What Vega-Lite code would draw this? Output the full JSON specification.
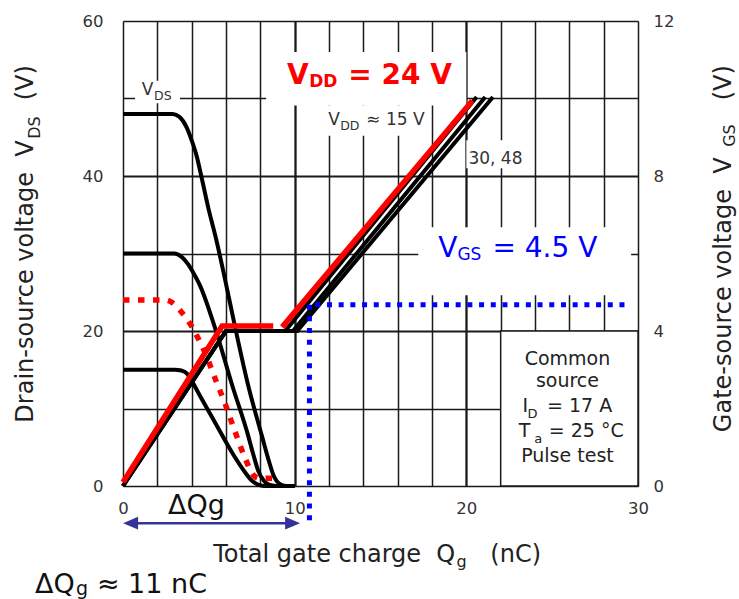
{
  "$schema": "https://vega.github.io/schema/vega-lite/v6.json",
  "width": 515,
  "height": 465,
  "autosize": {"type": "none"},
  "padding": {"left": 123, "top": 21, "right": 101, "bottom": 113},
  "background": "white",
  "config": {"view": {"stroke": null}, "font": "DejaVu Sans"},
  "datasets": {
    "vds": [
      {"q": 0, "v": 48, "s": "48"}, {"q": 2.9, "v": 48, "s": "48"}, {"q": 3.3, "v": 47.6, "s": "48"}, {"q": 3.7, "v": 46.3, "s": "48"},
      {"q": 4.0, "v": 44.6, "s": "48"}, {"q": 4.3, "v": 42.5, "s": "48"}, {"q": 4.55, "v": 40.1, "s": "48"}, {"q": 5.0, "v": 35.6, "s": "48"},
      {"q": 5.4, "v": 32.1, "s": "48"}, {"q": 5.95, "v": 26.6, "s": "48"}, {"q": 6.53, "v": 20.5, "s": "48"}, {"q": 7.29, "v": 13.0, "s": "48"},
      {"q": 8.1, "v": 6.4, "s": "48"}, {"q": 8.5, "v": 3.2, "s": "48"}, {"q": 8.8, "v": 1.2, "s": "48"}, {"q": 9.1, "v": 0.3, "s": "48"},
      {"q": 9.5, "v": 0, "s": "48"}, {"q": 10, "v": 0, "s": "48"},
      {"q": 0, "v": 30, "s": "30"}, {"q": 3.0, "v": 30, "s": "30"}, {"q": 3.4, "v": 29.6, "s": "30"}, {"q": 3.8, "v": 28.6, "s": "30"},
      {"q": 4.15, "v": 27.3, "s": "30"}, {"q": 4.5, "v": 25.8, "s": "30"}, {"q": 5.36, "v": 20.4, "s": "30"}, {"q": 6.36, "v": 13.0, "s": "30"},
      {"q": 7.29, "v": 6.5, "s": "30"}, {"q": 7.6, "v": 4.0, "s": "30"}, {"q": 7.87, "v": 2.0, "s": "30"}, {"q": 8.2, "v": 0.7, "s": "30"},
      {"q": 8.6, "v": 0.1, "s": "30"}, {"q": 9.0, "v": 0, "s": "30"}, {"q": 10, "v": 0, "s": "30"},
      {"q": 0, "v": 15, "s": "15"}, {"q": 3.0, "v": 15, "s": "15"}, {"q": 3.4, "v": 14.9, "s": "15"}, {"q": 3.73, "v": 14.5, "s": "15"},
      {"q": 4.0, "v": 13.6, "s": "15"}, {"q": 4.37, "v": 12.1, "s": "15"}, {"q": 5.36, "v": 8.2, "s": "15"}, {"q": 6.36, "v": 4.3, "s": "15"},
      {"q": 7.1, "v": 1.8, "s": "15"}, {"q": 7.5, "v": 0.7, "s": "15"}, {"q": 7.9, "v": 0.15, "s": "15"}, {"q": 8.3, "v": 0, "s": "15"},
      {"q": 10, "v": 0, "s": "15"}
    ],
    "vds24": [
      {"q": 0, "v": 24}, {"q": 2.45, "v": 24}, {"q": 2.9, "v": 23.6}, {"q": 3.23, "v": 22.9}, {"q": 3.6, "v": 21.9},
      {"q": 4.0, "v": 20.6}, {"q": 4.39, "v": 19.0}, {"q": 4.78, "v": 17.2}, {"q": 5.36, "v": 13.9}, {"q": 5.95, "v": 10.6},
      {"q": 6.53, "v": 7.0}, {"q": 7.11, "v": 3.6}, {"q": 7.6, "v": 1.4}, {"q": 7.9, "v": 1.0}, {"q": 8.7, "v": 1.0}
    ],
    "vgs": [
      {"q": 0, "g": 0, "s": "15"}, {"q": 6.0, "g": 4.0, "s": "15"}, {"q": 9.45, "g": 4.0, "s": "15"}, {"q": 20.6, "g": 10.04, "s": "15"},
      {"q": 0, "g": 0, "s": "30"}, {"q": 6.0, "g": 4.0, "s": "30"}, {"q": 9.9, "g": 4.0, "s": "30"}, {"q": 21.1, "g": 10.04, "s": "30"},
      {"q": 0, "g": 0, "s": "48"}, {"q": 6.0, "g": 4.0, "s": "48"}, {"q": 10.15, "g": 4.0, "s": "48"}, {"q": 21.55, "g": 10.04, "s": "48"},
      {"q": 0, "g": 0.1, "s": "24a"}, {"q": 5.77, "g": 4.13, "s": "24a"}, {"q": 8.75, "g": 4.13, "s": "24a"},
      {"q": 9.27, "g": 4.1, "s": "24b"}, {"q": 20.35, "g": 9.94, "s": "24b"}
    ],
    "blue_h": [{"q": 11.2, "q2": 29.56, "g": 4.68}],
    "blue_v": [{"q": 10.86, "g": 4.68, "g2": -1.02}],
    "boxes": [
      {"q": 0.7, "q2": 3.32, "v": 49.4, "v2": 52.3},
      {"q": 8.34, "q2": 20.0, "v": 49.1, "v2": 56.0},
      {"q": 11.78, "q2": 17.9, "v": 45.2, "v2": 49.1},
      {"q": 20.0, "q2": 23.2, "v": 41.0, "v2": 44.6},
      {"q": 17.2, "q2": 29.6, "v": 24.6, "v2": 33.4}
    ],
    "cbox": [{"q": 22, "q2": 30, "v": 0, "v2": 20}],
    "arrow": [{"q": 0.4, "q2": 9.9, "v": -4.8}],
    "headL": [{"q": 0.44, "v": -4.8}],
    "headR": [{"q": 9.88, "v": -4.8}],
    "t_red_big": [{"q": 9.56, "v": 51.92, "t": "V"}, {"q": 13.12, "v": 51.92, "t": "= 24 V"}],
    "t_red_sub": [{"q": 10.85, "v": 51.45, "t": "DD"}],
    "t_blue_big": [{"q": 18.37, "v": 29.5, "t": "V"}, {"q": 21.52, "v": 29.5, "t": "= 4.5 V"}],
    "t_blue_sub": [{"q": 19.48, "v": 29.12, "t": "GS"}],
    "t_small": [
      {"q": 11.95, "v": 46.54, "t": "V"}, {"q": 14.17, "v": 46.54, "t": "≈ 15 V"},
      {"q": 20.12, "v": 41.6, "t": "30, 48"}, {"q": 1.09, "v": 50.4, "t": "V"}
    ],
    "t_small_sub": [{"q": 12.65, "v": 45.9, "t": "DD"}, {"q": 1.81, "v": 49.8, "t": "DS"}],
    "t_box_c": [
      {"q": 25.89, "v": 15.57, "t": "Common"}, {"q": 25.89, "v": 12.77, "t": "source"}, {"q": 25.89, "v": 3.1, "t": "Pulse test"}
    ],
    "t_box_l": [
      {"q": 23.27, "v": 9.55, "t": "I"}, {"q": 24.7, "v": 9.55, "t": "= 17 A"},
      {"q": 23.05, "v": 6.32, "t": "T"}, {"q": 24.8, "v": 6.32, "t": "= 25 °C"}
    ],
    "t_box_sub": [{"q": 23.56, "v": 8.74, "t": "D"}, {"q": 23.95, "v": 5.55, "t": "a"}],
    "t_dq": [
      {"q": 2.62, "v": -3.56, "t": "ΔQg"}, {"q": -5.13, "v": -13.8, "t": "ΔQ"}, {"q": -1.52, "v": -13.8, "t": "≈ 11 nC"}
    ],
    "t_dq_sub": [{"q": -2.74, "v": -14.0, "t": "g"}],
    "t_ax_rot": [
      {"q": -5.23, "v": 44.6, "t": "Drain-source voltage\u00a0\u00a0V"},
      {"q": -5.23, "v": 54.3, "t": "(V)"},
      {"q": 35.39, "v": 42.41, "t": "Gate-source voltage\u00a0\u00a0V"},
      {"q": 35.39, "v": 54.3, "t": "(V)"}
    ],
    "t_ax_rot_sub": [{"q": -4.84, "v": 47.7, "t": "DS"}, {"q": 35.66, "v": 46.67, "t": "GS"}],
    "t_ax_x": [{"q": 5.25, "v": -9.85, "t": "Total gate charge\u00a0\u00a0Q"}, {"q": 21.4, "v": -9.85, "t": "(nC)"}],
    "t_ax_x_sub": [{"q": 19.42, "v": -10.5, "t": "g"}]
  },
  "encoding": {
    "x": {
      "field": "q", "type": "quantitative",
      "scale": {"domain": [0, 30], "nice": false, "zero": false},
      "axis": {
        "values": [0, 2, 4, 6, 8, 10, 12, 14, 16, 18, 20, 22, 24, 26, 28, 30],
        "grid": true, "gridColor": "#1a1a1a", "gridOpacity": 1,
        "gridWidth": {"condition": {"test": "datum.value === 10 || datum.value === 20", "value": 2.3}, "value": 1.5},
        "ticks": false, "domain": false,
        "labelExpr": "datum.value % 10 === 0 ? datum.label : ''",
        "labelFlush": false, "labelOverlap": false, "labelBound": false,
        "labelFont": "DejaVu Sans", "labelFontSize": 16.5, "labelColor": "#333333", "labelPadding": 14,
        "title": null
      }
    }
  },
  "layer": [
    {
      "encoding": {
        "y": {
          "field": "v", "type": "quantitative",
          "scale": {"domain": [0, 60], "nice": false, "zero": false},
          "axis": {
            "values": [0, 10, 20, 30, 40, 50, 60],
            "grid": true, "gridColor": "#1a1a1a", "gridOpacity": 1,
            "gridWidth": {"condition": {"test": "datum.value === 20 || datum.value === 40", "value": 2.2}, "value": 1.5},
            "ticks": false, "domain": false,
            "labelExpr": "datum.value % 20 === 0 ? datum.label : ''",
            "labelOverlap": false, "labelBound": false, "labelFlush": false,
            "labelFont": "DejaVu Sans", "labelFontSize": 16.5, "labelColor": "#333333", "labelPadding": 20,
            "title": null
          }
        }
      },
      "layer": [
        {"data": {"name": "boxes"}, "mark": {"type": "rect", "fill": "white", "strokeWidth": 0},
         "encoding": {"x2": {"field": "q2"}, "y2": {"field": "v2"}}},
        {"data": {"name": "cbox"}, "mark": {"type": "rect", "fill": "white", "stroke": "#1a1a1a", "strokeWidth": 1.5},
         "encoding": {"x2": {"field": "q2"}, "y2": {"field": "v2"}}},
        {"data": {"name": "vds"}, "mark": {"type": "line", "color": "#000000", "strokeWidth": 4, "interpolate": "monotone"},
         "encoding": {"detail": {"field": "s"}}},
        {"data": {"name": "vds24"}, "mark": {"type": "line", "color": "#ff0000", "strokeWidth": 5.5, "strokeDash": [6.5, 8.5], "interpolate": "monotone"}},
        {"data": {"name": "arrow"}, "mark": {"type": "rule", "color": "#333399", "strokeWidth": 2.5},
         "encoding": {"x2": {"field": "q2"}}},
        {"data": {"name": "headL"}, "mark": {"type": "point", "shape": "M 1 -0.85 L -1 0 L 1 0.85 Z", "size": 225, "filled": true, "opacity": 1, "color": "#333399"}},
        {"data": {"name": "headR"}, "mark": {"type": "point", "shape": "M -1 -0.85 L 1 0 L -1 0.85 Z", "size": 225, "filled": true, "opacity": 1, "color": "#333399"}},
        {"data": {"name": "t_red_big"}, "mark": {"type": "text", "font": "DejaVu Sans", "fontSize": 28, "fontWeight": "bold", "color": "#ff0000", "align": "left", "baseline": "alphabetic"},
         "encoding": {"text": {"field": "t"}}},
        {"data": {"name": "t_red_sub"}, "mark": {"type": "text", "font": "DejaVu Sans", "fontSize": 17, "fontWeight": "bold", "color": "#ff0000", "align": "left", "baseline": "alphabetic"},
         "encoding": {"text": {"field": "t"}}},
        {"data": {"name": "t_blue_big"}, "mark": {"type": "text", "font": "DejaVu Sans", "fontSize": 28, "color": "#0000ff", "align": "left", "baseline": "alphabetic"},
         "encoding": {"text": {"field": "t"}}},
        {"data": {"name": "t_blue_sub"}, "mark": {"type": "text", "font": "DejaVu Sans", "fontSize": 17, "color": "#0000ff", "align": "left", "baseline": "alphabetic"},
         "encoding": {"text": {"field": "t"}}},
        {"data": {"name": "t_small"}, "mark": {"type": "text", "font": "DejaVu Sans", "fontSize": 17, "color": "#333333", "align": "left", "baseline": "alphabetic"},
         "encoding": {"text": {"field": "t"}}},
        {"data": {"name": "t_small_sub"}, "mark": {"type": "text", "font": "DejaVu Sans", "fontSize": 12.5, "color": "#333333", "align": "left", "baseline": "alphabetic"},
         "encoding": {"text": {"field": "t"}}},
        {"data": {"name": "t_box_c"}, "mark": {"type": "text", "font": "DejaVu Sans", "fontSize": 19, "color": "#222222", "align": "center", "baseline": "alphabetic"},
         "encoding": {"text": {"field": "t"}}},
        {"data": {"name": "t_box_l"}, "mark": {"type": "text", "font": "DejaVu Sans", "fontSize": 19, "color": "#222222", "align": "left", "baseline": "alphabetic"},
         "encoding": {"text": {"field": "t"}}},
        {"data": {"name": "t_box_sub"}, "mark": {"type": "text", "font": "DejaVu Sans", "fontSize": 13, "color": "#222222", "align": "left", "baseline": "alphabetic"},
         "encoding": {"text": {"field": "t"}}},
        {"data": {"name": "t_dq"}, "mark": {"type": "text", "font": "DejaVu Sans", "fontSize": 27, "color": "#111111", "align": "left", "baseline": "alphabetic"},
         "encoding": {"text": {"field": "t"}}},
        {"data": {"name": "t_dq_sub"}, "mark": {"type": "text", "font": "DejaVu Sans", "fontSize": 19, "color": "#111111", "align": "left", "baseline": "alphabetic"},
         "encoding": {"text": {"field": "t"}}},
        {"data": {"name": "t_ax_rot"}, "mark": {"type": "text", "font": "DejaVu Sans", "fontSize": 24, "color": "#222222", "align": "right", "baseline": "alphabetic", "angle": 270},
         "encoding": {"text": {"field": "t"}}},
        {"data": {"name": "t_ax_rot_sub"}, "mark": {"type": "text", "font": "DejaVu Sans", "fontSize": 16, "color": "#222222", "align": "right", "baseline": "alphabetic", "angle": 270},
         "encoding": {"text": {"field": "t"}}},
        {"data": {"name": "t_ax_x"}, "mark": {"type": "text", "font": "DejaVu Sans", "fontSize": 24, "color": "#222222", "align": "left", "baseline": "alphabetic"},
         "encoding": {"text": {"field": "t"}}},
        {"data": {"name": "t_ax_x_sub"}, "mark": {"type": "text", "font": "DejaVu Sans", "fontSize": 16, "color": "#222222", "align": "left", "baseline": "alphabetic"},
         "encoding": {"text": {"field": "t"}}}
      ]
    },
    {
      "encoding": {
        "y": {
          "field": "g", "type": "quantitative",
          "scale": {"domain": [0, 12], "nice": false, "zero": false},
          "axis": {
            "orient": "right", "values": [0, 4, 8, 12], "grid": false, "ticks": false, "domain": false,
            "labelOverlap": false, "labelBound": false, "labelFlush": false,
            "labelFont": "DejaVu Sans", "labelFontSize": 16.5, "labelColor": "#333333", "labelPadding": 15,
            "title": null
          }
        }
      },
      "layer": [
        {"data": {"name": "vgs"}, "transform": [{"filter": "datum.s === '15' || datum.s === '30' || datum.s === '48'"}],
         "mark": {"type": "line", "color": "#000000", "strokeWidth": 4},
         "encoding": {"detail": {"field": "s"}}},
        {"data": {"name": "vgs"}, "transform": [{"filter": "datum.s === '24a' || datum.s === '24b'"}],
         "mark": {"type": "line", "color": "#ff0000", "strokeWidth": 5.5},
         "encoding": {"detail": {"field": "s"}}},
        {"data": {"name": "blue_h"}, "mark": {"type": "rule", "color": "#0000ff", "strokeWidth": 5, "strokeDash": [5, 6.7]},
         "encoding": {"x2": {"field": "q2"}}},
        {"data": {"name": "blue_v"}, "mark": {"type": "rule", "color": "#0000ff", "strokeWidth": 5, "strokeDash": [5, 6.7]},
         "encoding": {"y2": {"field": "g2"}}},
        {"data": {"values": [{"k": 1}]}, "mark": {"type": "rect", "fill": "transparent", "stroke": "#000000", "strokeWidth": 3.5},
         "encoding": {"x": {"datum": 0}, "x2": {"datum": 30}, "y": {"datum": 0}, "y2": {"datum": 12}}}
      ]
    }
  ],
  "resolve": {"scale": {"y": "independent"}}
}
